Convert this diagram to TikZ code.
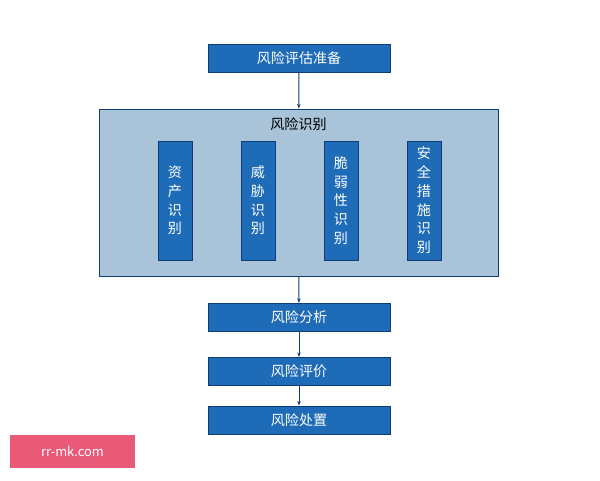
\documentclass[tikz,border=0pt]{standalone}
\usepackage{fontspec}
\setmainfont{Noto Sans CJK SC}
\usetikzlibrary{arrows.meta}
\definecolor{boxblue}{HTML}{1E6BB8}
\definecolor{edgeblue}{HTML}{0F3D73}
\definecolor{paneblue}{HTML}{A9C4D8}
\definecolor{markpink}{HTML}{E85A78}
\tikzset{
    stepbox/.style={draw=edgeblue, fill=boxblue, text=white, line width=0.8pt,
        minimum width=5.46cm, minimum height=0.84cm, inner sep=0pt, font=\fontsize{12}{14}\selectfont},
    subbox/.style={draw=edgeblue, fill=boxblue, text=white, line width=0.8pt,
        minimum width=1.02cm, minimum height=3.57cm, inner sep=0pt, align=center,
        font=\fontsize{12}{16}\selectfont},
    flow/.style={draw=edgeblue, line width=0.8pt, -{Stealth[length=4pt]}},
}
\begin{document}
\begin{tikzpicture}[x=0.03cm, y=-0.03cm]
    \useasboundingbox[fill=white] (0,0) rectangle (600,480);
    \node[stepbox] (prep) at (299, 58) {风险评估准备};
    \node[draw=edgeblue, fill=paneblue, line width=0.8pt, minimum width=11.97cm,
        minimum height=5.01cm, inner sep=0pt] (ident) at (298.5, 192.5) {};
    \node[font=\fontsize{12}{14}\selectfont] (identtitle) at (298.5, 124) {风险识别};
    \node[subbox] (asset) at (175, 200.5) {资\\产\\识\\别};
    \node[subbox] (threat) at (258, 200.5) {威\\胁\\识\\别};
    \node[subbox] (vuln) at (341, 200.5) {脆\\弱\\性\\识\\别};
    \node[subbox] (ctrl) at (424, 200.5) {安\\全\\措\\施\\识\\别};
    \node[stepbox] (anal) at (299, 317.5) {风险分析};
    \node[stepbox] (eval) at (299, 371.5) {风险评价};
    \node[stepbox] (treat) at (299, 420) {风险处置};
    \draw[flow] (prep) -- (ident);
    \draw[flow] (ident) -- (anal);
    \draw[flow] (anal) -- (eval);
    \draw[flow] (eval) -- (treat);
    % watermark
    \node[fill=markpink, text=white, minimum width=3.75cm, minimum height=0.99cm,
        inner sep=0pt, font=\fontsize{11}{13}\selectfont] (mark) at (72.5, 451.5) {rr-mk.com};
\end{tikzpicture}
\end{document}
